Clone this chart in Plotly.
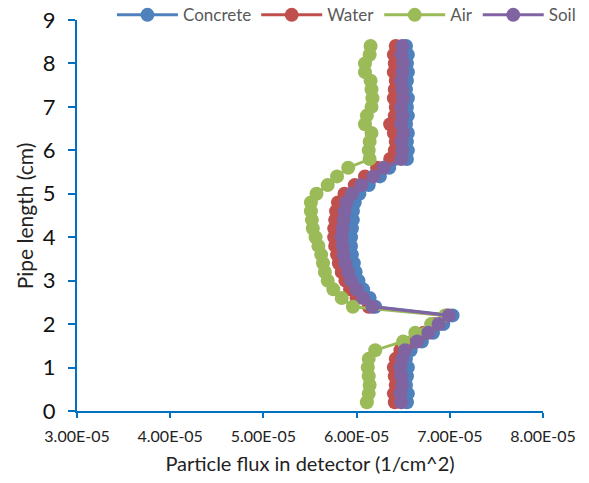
import plotly.graph_objects as go

pipe_length = [0.2, 0.4, 0.6, 0.8, 1.0, 1.2, 1.4, 1.6, 1.8, 2.0, 2.2, 2.4, 2.6, 2.8,
               3.0, 3.2, 3.4, 3.6, 3.8, 4.0, 4.2, 4.4, 4.6, 4.8, 5.0, 5.2, 5.4, 5.6,
               5.8, 6.0, 6.2, 6.4, 6.6, 6.8, 7.0, 7.2, 7.4, 7.6, 7.8, 8.0, 8.2, 8.4]

concrete = [6.54e-5, 6.55e-5, 6.53e-5, 6.54e-5, 6.55e-5, 6.53e-5, 6.58e-5, 6.70e-5, 6.82e-5, 6.93e-5,
            7.03e-5, 6.20e-5, 6.14e-5, 6.07e-5, 6.02e-5, 5.99e-5, 5.97e-5, 5.95e-5, 5.94e-5, 5.94e-5,
            5.95e-5, 5.96e-5, 5.96e-5, 5.98e-5, 6.03e-5, 6.13e-5, 6.25e-5, 6.35e-5, 6.54e-5, 6.55e-5,
            6.54e-5, 6.55e-5, 6.53e-5, 6.55e-5, 6.54e-5, 6.55e-5, 6.53e-5, 6.54e-5, 6.55e-5, 6.54e-5,
            6.55e-5, 6.53e-5]

water = [6.41e-5, 6.40e-5, 6.42e-5, 6.41e-5, 6.40e-5, 6.42e-5, 6.47e-5, 6.60e-5, 6.72e-5, 6.83e-5,
         6.97e-5, 6.13e-5, 6.00e-5, 5.93e-5, 5.88e-5, 5.84e-5, 5.81e-5, 5.79e-5, 5.77e-5, 5.76e-5,
         5.76e-5, 5.77e-5, 5.78e-5, 5.80e-5, 5.87e-5, 5.98e-5, 6.09e-5, 6.22e-5, 6.36e-5, 6.41e-5,
         6.42e-5, 6.40e-5, 6.36e-5, 6.41e-5, 6.42e-5, 6.40e-5, 6.41e-5, 6.42e-5, 6.40e-5, 6.41e-5,
         6.40e-5, 6.42e-5]

air = [6.11e-5, 6.13e-5, 6.14e-5, 6.13e-5, 6.12e-5, 6.13e-5, 6.20e-5, 6.50e-5, 6.63e-5, 6.80e-5,
       6.95e-5, 5.96e-5, 5.84e-5, 5.75e-5, 5.69e-5, 5.66e-5, 5.64e-5, 5.62e-5, 5.59e-5, 5.56e-5,
       5.53e-5, 5.52e-5, 5.51e-5, 5.51e-5, 5.57e-5, 5.69e-5, 5.79e-5, 5.91e-5, 6.14e-5, 6.13e-5,
       6.14e-5, 6.16e-5, 6.09e-5, 6.11e-5, 6.16e-5, 6.17e-5, 6.16e-5, 6.15e-5, 6.09e-5, 6.09e-5,
       6.14e-5, 6.15e-5]

soil = [6.48e-5, 6.47e-5, 6.49e-5, 6.48e-5, 6.47e-5, 6.49e-5, 6.52e-5, 6.65e-5, 6.77e-5, 6.88e-5,
        6.99e-5, 6.17e-5, 6.07e-5, 6.00e-5, 5.94e-5, 5.91e-5, 5.88e-5, 5.86e-5, 5.85e-5, 5.84e-5,
        5.85e-5, 5.86e-5, 5.87e-5, 5.89e-5, 5.95e-5, 6.05e-5, 6.18e-5, 6.29e-5, 6.48e-5, 6.49e-5,
        6.48e-5, 6.50e-5, 6.48e-5, 6.49e-5, 6.48e-5, 6.50e-5, 6.49e-5, 6.48e-5, 6.49e-5, 6.50e-5,
        6.48e-5, 6.49e-5]

series_names = ["Concrete", "Water", "Air", "Soil"]
series_colors = ["#4F81BD", "#C0504D", "#9BBB59", "#8064A2"]

x_tick_vals = [3e-5, 4e-5, 5e-5, 6e-5, 7e-5, 8e-5]
x_tick_text = ["3.00E-05", "4.00E-05", "5.00E-05", "6.00E-05", "7.00E-05", "8.00E-05"]
y_tick_vals = [0, 1, 2, 3, 4, 5, 6, 7, 8, 9]

FONT = "Lato, 'Open Sans', sans-serif"
AXIS_BLUE = "#0070C0"

fig = go.Figure()
for name, color, vals in zip(series_names, series_colors, [concrete, water, air, soil]):
    fig.add_trace(go.Scatter(
        x=vals, y=pipe_length, name=name, mode="lines+markers",
        line=dict(color=color, width=3),
        marker=dict(color=color, size=14, line=dict(width=0)),
    ))

fig.update_layout(
    width=589, height=483,
    margin=dict(l=77, r=46, t=20, b=72, autoexpand=False),
    paper_bgcolor="white", plot_bgcolor="white",
    font=dict(family=FONT, color="#000000"),
    showlegend=True,
    legend=dict(orientation="h", x=0.075, xanchor="left", y=1.012, yanchor="middle",
                bgcolor="rgba(0,0,0,0)", font=dict(size=17, color="#595959", family=FONT),
                itemwidth=61, tracegroupgap=0),
    xaxis=dict(range=[3e-5, 8e-5], tickvals=x_tick_vals, ticktext=x_tick_text,
               showgrid=False, zeroline=False, showline=True, linecolor=AXIS_BLUE, linewidth=2,
               ticks="outside", tickcolor=AXIS_BLUE, ticklen=5, tickwidth=2,
               ticklabelstandoff=5,
               tickfont=dict(size=16, color="#222222"),
               title=dict(text="Particle flux in detector (1/cm^2)", font=dict(size=20, color="#222222"),
                          standoff=13)),
    yaxis=dict(range=[0, 9], tickvals=y_tick_vals,
               showgrid=False, zeroline=False, showline=True, linecolor=AXIS_BLUE, linewidth=2,
               ticks="outside", tickcolor=AXIS_BLUE, ticklen=7, tickwidth=2,
               ticklabelstandoff=8,
               tickfont=dict(size=22, color="#111111")),
    annotations=[dict(text="Pipe length (cm)", textangle=-90, xref="paper", yref="paper",
                      x=-0.112, y=0.5, xanchor="center", yanchor="middle", showarrow=False,
                      font=dict(size=21, color="#222222", family=FONT))],
)

fig.write_html("out.html")
